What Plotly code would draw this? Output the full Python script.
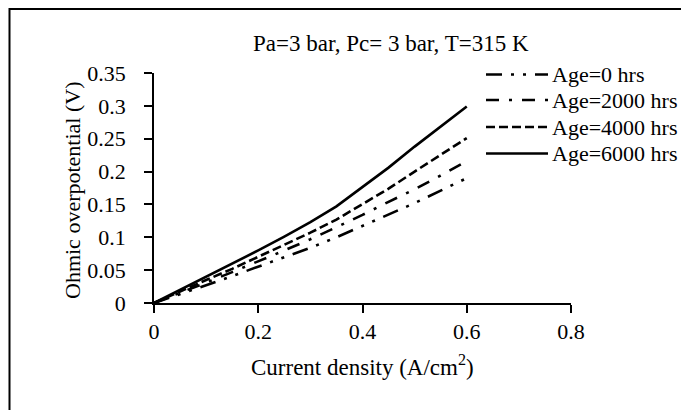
import plotly.graph_objects as go

# ---- data ----
current_density = [0, 0.05, 0.10, 0.15, 0.20, 0.25, 0.30, 0.35, 0.40, 0.45, 0.50, 0.55, 0.60]
age_0 = [0, 0.013, 0.027, 0.041, 0.055, 0.069, 0.084, 0.100, 0.117, 0.134, 0.152, 0.171, 0.190]
age_2000 = [0, 0.015, 0.031, 0.047, 0.063, 0.080, 0.097, 0.115, 0.134, 0.154, 0.173, 0.194, 0.216]
age_4000 = [0, 0.018, 0.035, 0.052, 0.070, 0.088, 0.107, 0.127, 0.150, 0.174, 0.200, 0.225, 0.251]
age_6000 = [0, 0.020, 0.039, 0.059, 0.080, 0.101, 0.123, 0.147, 0.176, 0.206, 0.238, 0.268, 0.299]

series_names = ["Age=0 hrs", "Age=2000 hrs", "Age=4000 hrs", "Age=6000 hrs"]
series_values = [age_0, age_2000, age_4000, age_6000]
dashes = ["16px,9px,3px,9px,3px,9px", "13px,10px,3px,10px", "9px,4px", "solid"]

x_ticks = [0, 0.2, 0.4, 0.6, 0.8]
x_tick_labels = ["0", "0.2", "0.4", "0.6", "0.8"]
y_ticks = [0, 0.05, 0.1, 0.15, 0.2, 0.25, 0.3, 0.35]
y_tick_labels = ["0", "0.05", "0.1", "0.15", "0.2", "0.25", "0.3", "0.35"]

FONT = "Liberation Serif, Times New Roman, serif"

# The page body has an 8px margin, so the figure starts at (8, 8) on screen.
OFF = 8
W, H = 681, 402
L, T = 146, 65
PW, PH = 417, 230
R = W - L - PW
B = H - T - PH


def px_x(p):  # screen pixel -> paper x
    return (p - OFF - L) / PW


def px_y(p):  # screen pixel -> paper y
    return (T + PH - (p - OFF)) / PH


fig = go.Figure()
for name, vals, d in zip(series_names, series_values, dashes):
    fig.add_trace(go.Scatter(
        x=current_density, y=vals, mode="lines", name=name,
        line=dict(color="black", width=2.6, dash=d), showlegend=False))

shapes = []
annotations = []

# manual legend (long line samples like the reference)
legend_rows = [74.5, 100, 127, 153.5]
for name, d, ry in zip(series_names, dashes, legend_rows):
    shapes.append(dict(type="line", xref="paper", yref="paper",
                       x0=px_x(486), x1=px_x(548), y0=px_y(ry), y1=px_y(ry),
                       line=dict(color="black", width=2.6, dash=d)))
    annotations.append(dict(text=name, xref="paper", yref="paper",
                            x=px_x(550), y=px_y(ry), xanchor="left", yanchor="middle",
                            showarrow=False, font=dict(family=FONT, size=22, color="black")))

# outer frame (continues past the right and bottom edges)
shapes.append(dict(type="rect", xref="paper", yref="paper",
                   x0=px_x(9.5), x1=px_x(900), y0=px_y(700), y1=px_y(9),
                   line=dict(color="black", width=2), fillcolor="rgba(0,0,0,0)"))

# title
annotations.append(dict(text="Pa=3 bar, Pc= 3 bar, T=315 K", xref="paper", yref="paper",
                        x=px_x(251), y=px_y(43), xanchor="left", yanchor="middle",
                        showarrow=False, font=dict(family=FONT, size=23, color="black")))
# axis titles
annotations.append(dict(text="Current density (A/cm<sup>2</sup>)", xref="paper", yref="paper",
                        x=px_x(362), y=px_y(365), xanchor="center", yanchor="middle",
                        showarrow=False, font=dict(family=FONT, size=23, color="black")))
annotations.append(dict(text="Ohmic overpotential (V)", xref="paper", yref="paper",
                        x=px_x(72), y=px_y(190), xanchor="center", yanchor="middle",
                        textangle=-90,
                        showarrow=False, font=dict(family=FONT, size=22, color="black")))

fig.update_layout(
    width=W, height=H,
    margin=dict(l=L, r=R, t=T, b=B, autoexpand=False),
    paper_bgcolor="white", plot_bgcolor="white",
    showlegend=False,
    shapes=shapes, annotations=annotations,
    font=dict(family=FONT, size=22, color="black"),
)
fig.update_xaxes(range=[0, 0.8], tickvals=x_ticks, ticktext=x_tick_labels,
                 showline=True, linecolor="black", linewidth=1.5,
                 ticks="outside", ticklen=8, tickwidth=1.5, tickcolor="black",
                 showgrid=False, zeroline=False,
                 tickfont=dict(family=FONT, size=22, color="black"))
fig.update_yaxes(range=[0, 0.35], tickvals=y_ticks, ticktext=y_tick_labels,
                 showline=True, linecolor="black", linewidth=1.5,
                 ticks="outside", ticklen=8, tickwidth=1.5, tickcolor="black",
                 ticklabelstandoff=14,
                 showgrid=False, zeroline=False,
                 tickfont=dict(family=FONT, size=22, color="black"))

fig.write_html("out.html")
